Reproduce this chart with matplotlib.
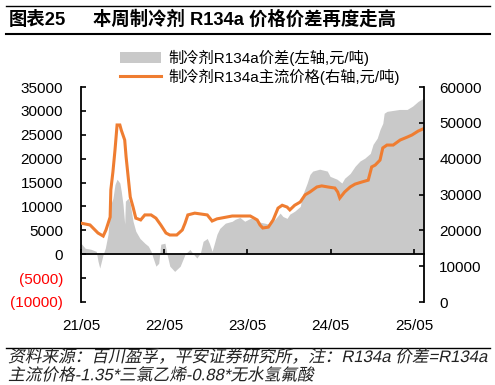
import numpy as np
import pandas as pd
import matplotlib
matplotlib.use('Agg')
import matplotlib.pyplot as plt
from matplotlib.patches import Patch
from matplotlib.lines import Line2D
from matplotlib.patheffects import AbstractPathEffect
from matplotlib.transforms import Affine2D

plt.rcParams['font.family'] = ['Liberation Sans', 'Noto Sans CJK SC', 'DejaVu Sans']

# months after 2021-05 for each reading, and the values
spread_months = [0, 0.6, 1.4, 2.2, 2.45, 2.7, 3.2, 3.5, 3.9, 4.2, 4.6, 4.9, 5.2, 5.6, 5.8,
                 6.05, 6.3, 6.4, 6.8, 7.1, 7.5, 7.9, 8.5, 9.2, 9.7, 10.1, 10.4, 10.8, 11.2,
                 11.5, 12.1, 12.4, 12.8, 13.5, 14.3, 15.0, 15.7, 16.1, 16.7, 17.2, 17.6,
                 18.2, 18.5, 18.9, 19.6, 20.0, 20.8, 21.8, 22.2, 22.9, 23.6, 24.4, 25.4,
                 25.8, 26.5, 27.0, 27.7, 28.3, 28.7, 29.1, 29.7, 30.1, 30.8, 31.6, 32.0,
                 32.6, 33.0, 33.4, 34.4, 35.5, 35.9, 36.9, 37.6, 38.0, 38.8, 39.5, 40.2,
                 40.9, 41.7, 42.1, 42.7, 43.1, 43.5, 43.7, 44.1, 45.0, 45.9, 47.0, 47.8,
                 48.6, 49.3]
spread = [2300, 1250, 1050, 600, -1450, -2900, 0, 1250, 4200, 10000, 11700, 14600, 15700,
          14900, 13200, 10500, 6300, 11100, 11700, 10500, 6900, 4800, 3300, 2300, 1700, 600,
          -800, -2500, -1900, 2100, 2300, 0, -2500, -3600, -2500, 0, 1000, 200, -800, 200,
          2700, 3300, 2300, 600, 4200, 5400, 6500, 6900, 7300, 7700, 6900, 7500, 7300, 6700,
          6500, 6300, 6900, 7900, 8600, 7900, 7500, 8400, 9000, 10000, 12600, 14900, 16700,
          17400, 17800, 17400, 16300, 15700, 14900, 15900, 16900, 18400, 19500, 20100,
          21100, 23000, 24300, 26100, 27400, 29500, 29900, 30100, 30300, 30300, 31000,
          32000, 32600]

price_months = [0, 1.3, 2.45, 3.2, 3.6, 4.2, 4.3, 4.6, 4.9, 5.2, 5.6, 5.8, 6.3, 6.5, 6.8,
                7.1, 7.5, 7.9, 8.6, 9.2, 10.1, 10.8, 11.5, 12.25, 12.8, 13.8, 14.6, 15.0,
                15.4, 16.4, 18.2, 18.9, 19.6, 21.8, 24.4, 25.4, 25.8, 26.2, 27.0, 27.7, 28.4,
                29.0, 29.7, 30.1, 30.8, 31.6, 32.3, 33.0, 34.0, 34.7, 35.6, 36.6, 37.0,
                37.3, 38.0, 38.8, 39.5, 40.5, 41.4, 41.9, 42.4, 43.1, 43.5, 44.1, 45.0,
                46.0, 47.0, 47.7, 48.6, 49.3]
price = [22000, 21500, 19250, 18400, 20100, 23700, 31300, 36300, 42400, 49400, 49400, 48000,
         45200, 40500, 34900, 29300, 26500, 23400, 22900, 24300, 24300, 23400, 21500, 19250,
         18700, 18700, 20100, 22000, 24300, 24800, 24300, 22600, 23200, 24000, 24000, 22900,
         21500, 20650, 20900, 22900, 26200, 27000, 26500, 25700, 27000, 27900, 29900, 30700,
         32100, 32400, 32100, 31800, 30700, 29000, 30700, 32100, 32900, 33500, 34000, 37700,
         38200, 39600, 43000, 43800, 43800, 45200, 46000, 46600, 47700, 48300]

xtick_labels = ['21/05', '22/05', '23/05', '24/05', '25/05']
left_ticks = [-10000, -5000, 0, 5000, 10000, 15000, 20000, 25000, 30000, 35000]
right_ticks = [0, 10000, 20000, 30000, 40000, 50000, 60000]

base = pd.Timestamp('2021-05-01')
def to_dates(months):
    return base + pd.to_timedelta(np.array(months) * 30.4375, unit='D')

spread_dates = to_dates(spread_months)
price_dates = to_dates(price_months)
tick_dates = pd.to_datetime(['2021-05-01', '2022-05-01', '2023-05-01', '2024-05-01', '2025-05-01'])

GRAY = '#c9c9c9'
ORANGE = '#ef7d31'


class Slant(AbstractPathEffect):
    """fake italic for fonts without an italic face"""
    def draw_path(self, renderer, gc, tpath, affine, rgbFace=None):
        renderer.draw_path(gc, tpath, Affine2D().skew_deg(12, 0) + affine, rgbFace)


fig = plt.figure(figsize=(4.95, 3.85), dpi=100)
ax = fig.add_axes([81 / 495, (385 - 302) / 385, 343 / 495, 215 / 385])
ax2 = ax.twinx()

ax.fill_between(spread_dates, spread, 0, color=GRAY, lw=0)
ax2.plot(price_dates, price, color=ORANGE, lw=2.2, solid_joinstyle='miter')

ax.set_ylim(-10000, 35000)
ax2.set_ylim(0, 60000)
ax.set_xlim(base, base + pd.Timedelta(days=49.44 * 30.4375))

ax.set_yticks(left_ticks)
ax.set_yticklabels([f'({abs(v)})' if v < 0 else str(v) for v in left_ticks])
for lab, v in zip(ax.get_yticklabels(), left_ticks):
    if v < 0:
        lab.set_color('red')
ax2.set_yticks(right_ticks)

ax.set_xticks(tick_dates)
ax.set_xticklabels(xtick_labels)

for a in (ax, ax2):
    a.spines['top'].set_visible(False)
ax.spines['right'].set_visible(False)
ax2.spines['left'].set_visible(False)
ax2.spines['bottom'].set_visible(False)
ax.spines['bottom'].set_position(('data', 0))
for s in ('left', 'bottom'):
    ax.spines[s].set_linewidth(1.3)
ax2.spines['right'].set_linewidth(1.3)

ax.tick_params(axis='y', direction='in', length=3.5, width=1.2, pad=13, labelsize=11)
ax.tick_params(axis='x', direction='in', length=3.5, width=1.2, pad=47, labelsize=11)
ax2.tick_params(axis='y', direction='in', length=3.5, width=1.2, pad=11, labelsize=11)

handles = [Patch(facecolor=GRAY, edgecolor='none'), Line2D([], [], color=ORANGE, lw=2.2)]
labels = ['制冷剂R134a价差(左轴,元/吨)', '制冷剂R134a主流价格(右轴,元/吨)']
fig.legend(handles, labels, loc='upper left', bbox_to_anchor=(120 / 495, 1 - 50 / 385),
           frameon=False, fontsize=11, handlelength=2.7, handleheight=0.75,
           handletextpad=0.45, labelspacing=0.15, borderpad=0, borderaxespad=0)

# header and footer rules
fig.add_artist(Line2D([6 / 495, 490 / 495], [1 - 5.5 / 385] * 2, color='black', lw=1.0))
fig.add_artist(Line2D([6 / 495, 490 / 495], [1 - 33.5 / 385] * 2, color='black', lw=1.5))
fig.add_artist(Line2D([6 / 495, 490 / 495], [1 - 347.5 / 385] * 2, color='black', lw=1.0))

fig.text(9 / 495, 1 - 20 / 385, '图表25', fontsize=13.2, fontweight='bold', va='center',
         family=['Liberation Sans', 'Noto Sans CJK SC'])
fig.text(93 / 495, 1 - 20 / 385, '本周制冷剂 R134a 价格价差再度走高', fontsize=13.2,
         fontweight='bold', va='center', family=['Liberation Sans', 'Noto Sans CJK SC'])

foot = fig.text(8 / 495, 1 - 349 / 385,
                '资料来源：百川盈孚，平安证券研究所，注：R134a 价差=R134a\n'
                '主流价格-1.35*三氯乙烯-0.88*无水氢氟酸',
                fontsize=12, va='top', linespacing=1.2, color='#222222')
foot.set_path_effects([Slant()])

fig.savefig('out.png', dpi=100)
